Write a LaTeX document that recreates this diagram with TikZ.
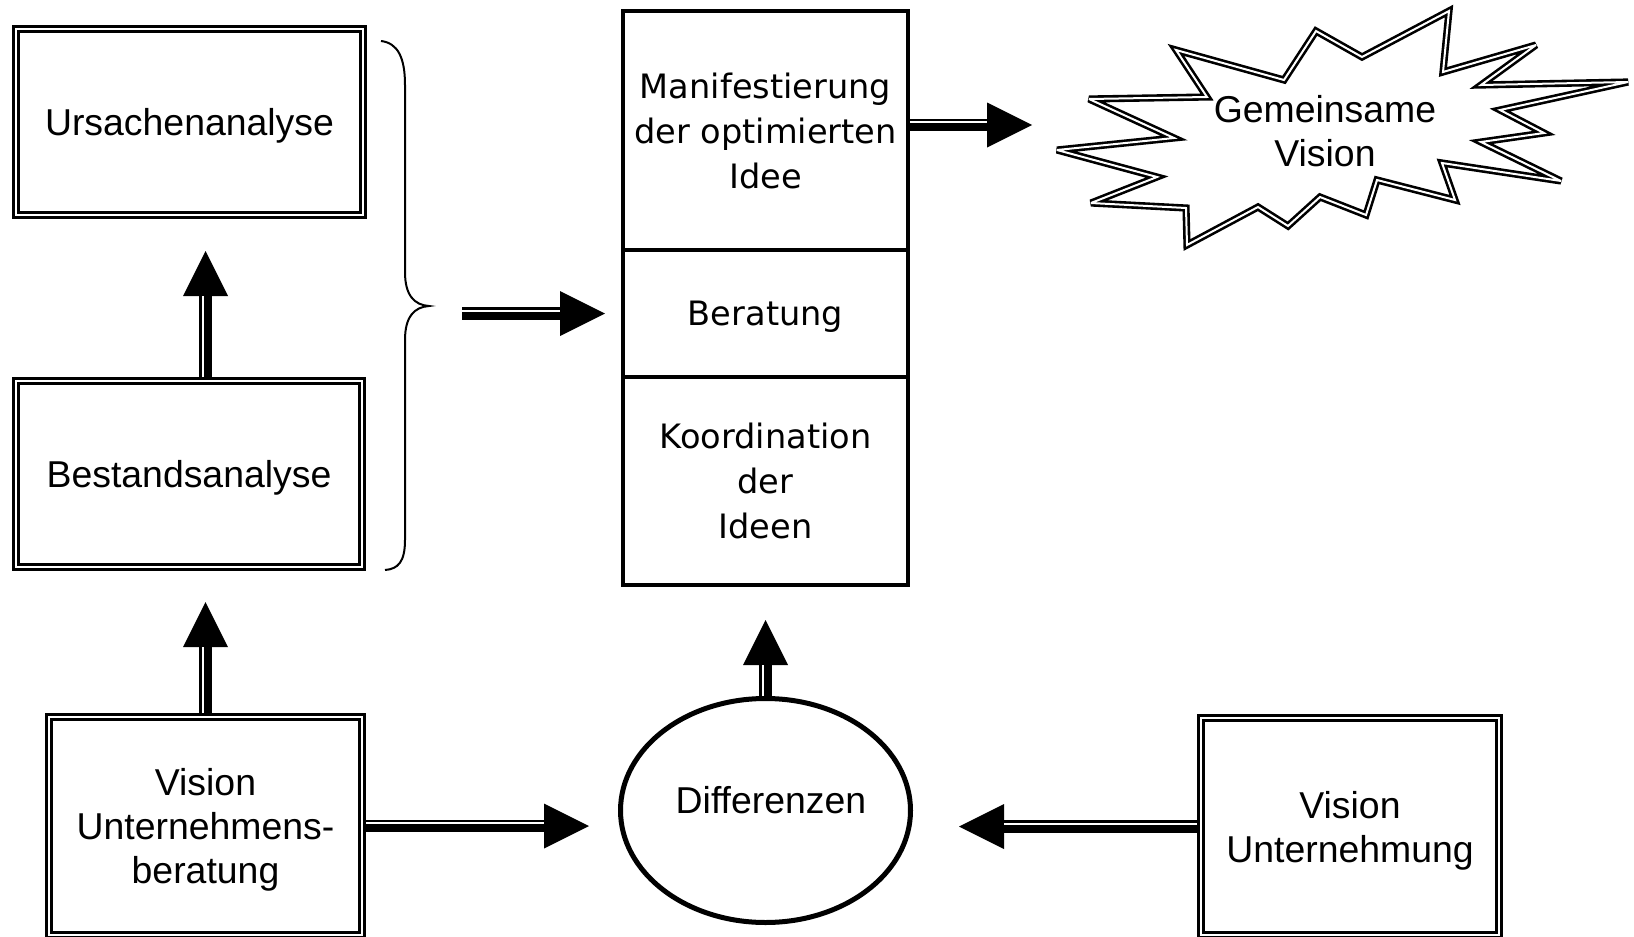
\documentclass[tikz,border=0pt]{standalone}
\usepackage{fontspec}
\setmainfont{Liberation Sans}
\newfontfamily\dvfont{DejaVu Sans}
\usetikzlibrary{arrows.meta,shapes.geometric}
\begin{document}
\begin{tikzpicture}[x=0.5pt,y=-0.5pt,
  txt/.style={font=\fontsize{18.7pt}{22pt}\selectfont},
  dbox/.style={draw, double, line width=1.4pt, double distance=1.2pt, outer sep=2pt, inner sep=0pt, align=center, text depth=0pt, txt},
  cbox/.style={draw, line width=2pt, outer sep=1pt, inner sep=0pt, minimum width=142.5pt, align=center, text depth=0pt, font=\dvfont\fontsize{16.8pt}{22.5pt}\selectfont},
  conn/.style={line width=6.15pt, -{Triangle[width=22.5pt,length=22.5pt,line width=0pt]}},
  gapH/.style={draw=white, line width=1.15pt, shorten >=22.5pt, transform canvas={yshift=1.35pt}},
  gapV/.style={draw=white, line width=1.15pt, shorten >=22.5pt, transform canvas={xshift=-1.35pt}},
  dstar/.style={draw, double, line width=1.3pt, double distance=1pt, line join=miter, miter limit=4},
]
\useasboundingbox (0,0) rectangle (1634,937);
\clip (0,0) rectangle (1634,937);

% boxes
\node[dbox, minimum width=173.5pt, minimum height=93pt] (U) at (189.5,122) {Ursachenanalyse};
\node[dbox, minimum width=173pt, minimum height=93pt] (B) at (189,474) {Bestandsanalyse};
\node[dbox, minimum width=156.5pt, minimum height=109pt] (VU) at (205.5,826) {Vision\\Unternehmens-\\beratung};
\node[dbox, minimum width=149pt, minimum height=108.5pt] (VN) at (1350,826.5) {Vision\\Unternehmung};

\node[cbox, minimum height=119.5pt] (M) at (765.5,130.5) {Manifestierung\\der optimierten\\Idee};
\node[cbox, minimum height=63.5pt] (Be) at (765.5,313.5) {Beratung};
\node[cbox, minimum height=104pt] (K) at (765.5,481) {Koordination\\der\\Ideen};

\node[ellipse, draw, line width=2.5pt, minimum width=145pt, minimum height=112pt, inner sep=0pt,
  label={[txt, xshift=2.75pt, yshift=5.25pt]center:Differenzen}] (D) at (765.5,810.5) {};

% star
\draw[dstar] (1176,50) -- (1284,80) -- (1316,31) -- (1362,57) -- (1449,11) -- (1443,72) -- (1536,45) -- (1481,85) -- (1628,82) -- (1500,110) -- (1544,133) -- (1481,142) -- (1561,181) -- (1442,163) -- (1455,200) -- (1377,180) -- (1366,215) -- (1320,197) -- (1288,226) -- (1258,207) -- (1187,245) -- (1186,208) -- (1091,203) -- (1157,177) -- (1057,150) -- (1174,138) -- (1089,99) -- (1207,97) -- cycle;
\node[txt, align=center, inner sep=0pt] (G) at (1325,131) {Gemeinsame\\Vision};

% brace
\draw[line width=1pt] (381,41) .. controls (398,43) and (405,58) .. (405,85) -- (405,272) .. controls (405,295) and (414,305) .. (429,306) .. controls (414,307) and (405,317) .. (405,340) -- (405,540) .. controls (405,562) and (398,569) .. (385,570);

% free ends of connectors
\coordinate (dL) at (589,826);
\coordinate (dR) at (959,826.5);
\coordinate (kB) at (765.5,620);
\coordinate (bB) at (205.5,602);
\coordinate (uB) at (205.5,251);
\coordinate (bs) at (462,313.5);
\coordinate (beL) at (605,313.5);
\coordinate (sv) at (1032,125);

% connectors
\draw[conn] (VU.east) -- (dL); \draw[gapH] (VU.east) -- (dL);
\draw[conn] (VN.west) -- (dR); \draw[gapH] (VN.west) -- (dR);
\draw[conn] (D.north) -- (kB); \draw[gapV] (D.north) -- (kB);
\draw[conn] (VU.north) -- (bB); \draw[gapV] (VU.north) -- (bB);
\draw[conn] (VU.north |- B.north) -- (uB); \draw[gapV] (VU.north |- B.north) -- (uB);
\draw[conn] (bs) -- (beL); \draw[gapH] (bs) -- (beL);
\draw[conn] (M.east |- sv) -- (sv); \draw[gapH] (M.east |- sv) -- (sv);
\end{tikzpicture}
\end{document}
